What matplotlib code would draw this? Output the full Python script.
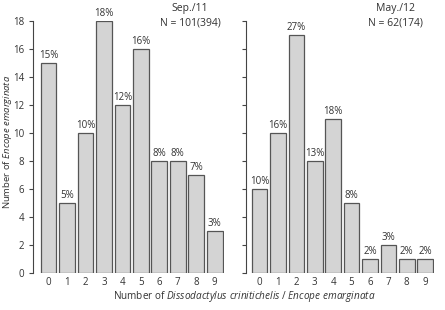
import numpy as np
import matplotlib
matplotlib.use('Agg')
import matplotlib.pyplot as plt

classes = list(range(10))
sep_counts = [15, 5, 10, 18, 12, 16, 8, 8, 7, 3]
sep_pct = ['15%', '5%', '10%', '18%', '12%', '16%', '8%', '8%', '7%', '3%']
may_counts = [6, 10, 17, 8, 11, 5, 1, 2, 1, 1]
may_pct = ['10%', '16%', '27%', '13%', '18%', '8%', '2%', '3%', '2%', '2%']

plt.rcParams['font.family'] = ['Open Sans', 'DejaVu Sans']
plt.rcParams['mathtext.fontset'] = 'custom'
plt.rcParams['mathtext.rm'] = 'Open Sans'
plt.rcParams['mathtext.it'] = 'Open Sans:italic'
txt = '#333333'

fig = plt.figure(figsize=(4.45, 3.1), dpi=100)
ax1 = fig.add_axes([0.0742, 0.119, 0.429, 0.813])
ax2 = fig.add_axes([0.552, 0.119, 0.424, 0.813])

panels = [(ax1, sep_counts, sep_pct, 'Sep./11', 'N = 101(394)', -0.84, 0.427),
          (ax2, may_counts, may_pct, 'May./12', 'N = 62(174)', -0.76, 0.889)]

for ax, counts, pct, t1, t2, xl, tx in panels:
    ax.bar(classes, counts, width=0.85, color='#d4d4d4', edgecolor='#555555', linewidth=0.9)
    for x, c, p in zip(classes, counts, pct):
        ax.text(x, c + 0.15, p, ha='center', va='bottom', fontsize=7, color=txt)
    ax.set_xlim(xl, 9.5)
    ax.set_ylim(0, 18)
    ax.set_yticks(range(0, 19, 2))
    ax.set_xticks(classes)
    for s in ['top', 'right', 'bottom']:
        ax.spines[s].set_visible(False)
    ax.spines['left'].set_color('#444444')
    ax.spines['left'].set_linewidth(0.8)
    ax.tick_params(axis='x', length=0, labelsize=7, colors=txt, pad=3)
    ax.tick_params(axis='y', length=3, width=0.8, direction='out', labelsize=7,
                   colors='#444444', labelcolor=txt)
    fig.text(tx, 0.974, t1, ha='center', va='center', fontsize=7.5, color=txt)
    fig.text(tx, 0.927, t2, ha='center', va='center', fontsize=7.5, color=txt)

ax2.set_yticklabels([])

ax1.set_ylabel('Number of $\\it{Encope\\ emarginata}$', fontsize=6.8, color=txt)
ax1.yaxis.set_label_coords(-0.1, 0.52)
fig.text(0.548, 0.042, 'Number of $\\it{Dissodactylus\\ crinitichelis}$ / $\\it{Encope\\ emarginata}$',
         ha='center', va='center', fontsize=7.2, color=txt)

fig.savefig('out.png', dpi=100)
